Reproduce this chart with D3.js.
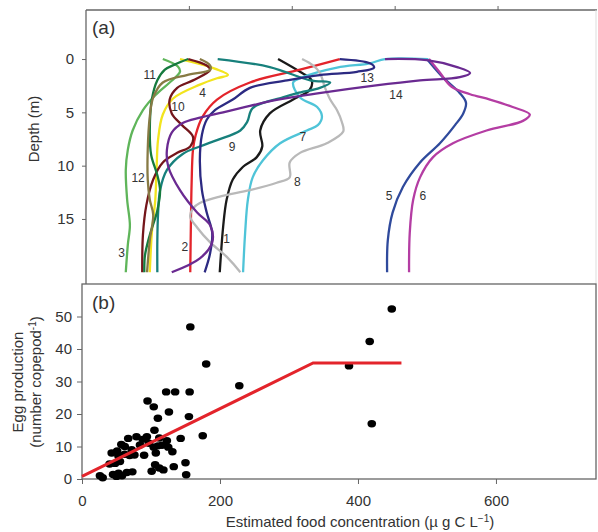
<!DOCTYPE html>
<html>
<head>
<meta charset="utf-8">
<script src="https://cdn.jsdelivr.net/npm/d3@7"></script>
<style>
  body { margin: 0; background: #fff; }
  svg text { font-family: "Liberation Sans", Arial, sans-serif; fill: #333; }
</style>
</head>
<body>
<script>
// ---- (a) food profiles per station, [food, depth] ----
const station1 = [[280,0],[312,1.2],[329,2.0],[326,2.9],[302,3.8],[268,5.1],[254,6.7],[257,8.2],[249,9.2],[229,10.1],[214,11.3],[205,13.2],[200,15.7],[195,20]];
const station2 = [[370,0],[312,1.0],[239,2.2],[191,3.8],[170,5.4],[160,7.1],[156,8.5],[154,11.6],[153,15.1],[152,20]];
const station3 = [[112,0],[134,0.7],[137,1.2],[122,2.2],[101,3.4],[83,4.8],[68,6.7],[61,8.5],[58,10.4],[60,13.2],[64,15.6],[61,17.4],[58,20]];
const station4 = [[137,0],[181,0.75],[207,1.5],[191,1.8],[166,2.4],[127,3.7],[112,5.2],[105,7.6],[103,10.1],[101,13.2],[96,16.3],[93,20]];
const station5 = [[497,0],[520,1.7],[545,3.2],[554,4.1],[550,5.1],[538,6.2],[516,7.9],[487,9.7],[462,12],[447,14.4],[440,17],[439,20]];
const station6 = [[500,0],[515,1.2],[533,2.6],[560,3.3],[589,3.8],[622,4.5],[647,5.2],[637,5.8],[584,6.7],[535,7.9],[506,9.2],[487,11.1],[477,13.2],[472,16.3],[471,20]];
const station7 = [[499,0],[436,0],[414,0.4],[366,0.8],[316,1.7],[302,2.2],[312,3.6],[337,4.5],[344,5.4],[338,6.2],[322,6.7],[283,7.9],[258,9.5],[243,11.1],[236,13.2],[232,16.3],[229,20]];
const station8 = [[315,0],[331,0.6],[341,1.3],[348,2.6],[356,3.8],[366,4.8],[373,5.9],[375,6.8],[351,7.9],[312,8.8],[297,9.7],[297,11.1],[278,11.6],[239,12.3],[195,12.9],[166,13.5],[156,14.0],[152,14.8],[162,15.8],[181,17.2],[206,18.6],[225,20]];
const station9 = [[192,0],[268,0.75],[327,2.0],[356,2.2],[341,2.7],[308,3.2],[287,3.6],[243,4.6],[235,5.9],[225,6.7],[191,7.6],[166,8.2],[141,8.9],[118,10.4],[108,12.3],[105,14.6],[104,17],[104,20]];
const station10 = [[149,0],[176,0.6],[181,1.0],[156,2.0],[133,2.7],[122,3.8],[125,5.1],[140,6.2],[156,7.3],[152,8.2],[133,8.8],[112,9.7],[98,11.3],[88,13.7],[83,16.5],[82,20]];
const station11 = [[149,0],[130,0.5],[115,1.0],[104,2.0],[96,3.8],[93,6.7],[95,9.0],[104,10.9],[108,12.3],[104,14.2],[93,16.5],[86,18.4],[85,20]];
const station12 = [[166,0],[181,0.6],[181,1.0],[147,1.5],[112,2.2],[98,3.6],[93,5.4],[90,8.5],[90,11.3],[93,13.2],[98,14.6],[93,17],[89,20]];
const station13 = [[370,0],[414,0.4],[420,0.8],[395,1.2],[341,1.5],[293,2.0],[239,2.7],[214,3.8],[188,4.8],[176,5.7],[169,7.1],[166,9.5],[169,12.3],[176,14.4],[184,16.3],[181,18.2],[173,20]];
const station14 = [[436,0],[497,0.1],[541,0.75],[560,1.3],[545,1.7],[487,2.0],[420,2.5],[340,3.2],[280,3.8],[239,4.4],[200,5.0],[166,5.5],[141,6.0],[125,6.9],[118,8.5],[120,10.1],[137,12.3],[162,14.4],[181,15.6],[184,17.2],[166,18.7],[125,20]];

const stations = [station1, station2, station3, station4, station5, station6, station7,
  station8, station9, station10, station11, station12, station13, station14];
const stationNames = ["1","2","3","4","5","6","7","8","9","10","11","12","13","14"];
const stationColors = ["#1a1a1a","#e3242b","#5fb55a","#f2e41e","#2f4a9c","#b43da3","#4fc4d8",
  "#b9b9b9","#17807c","#74161b","#157a3e","#877a44","#2c2a82","#6a2a91"];
// where each station number is written, [food, depth]
const stationLabelAt = [[205,16.9],[144,17.6],[52,18.2],[170,3.2],[442,12.8],[491,12.8],[316,7.3],
  [308,11.5],[213,8.2],[134,4.5],[93,1.5],[76,11.1],[410,1.8],[452,3.4]];
const depthTicks = [0, 5, 10, 15];
const topFoodTicks = [150, 300, 450, 600];

// ---- (b) egg production vs estimated food ----
const foodConc = [26,30,45,50,53,58,65,73,101,106,112,118,133,151,150,43,48,55,53,62,69,76,90,107,131,
  51,57,62,67,79,94,97,104,110,116,123,125,112,143,105,110,126,155,104,95,122,135,156,175,180,157,228,
  387,417,449,420,88,84,72,40];
const eggProd = [1.0,0.4,1.4,0.8,1.8,1.0,2.0,2.2,2.4,4.4,3.4,2.8,3.8,1.3,5.0,8.0,4.8,5.4,7.0,7.6,7.2,7.4,7.3,8.0,8.4,
  8.6,10.6,10.0,12.5,13.0,13.0,11.0,9.8,10.2,10.4,11.8,9.8,12.6,12.5,15.0,18.7,20.6,19.2,22.2,24.0,26.8,26.8,26.8,13.3,35.4,46.8,28.7,
  34.8,42.3,52.3,17.0,12.2,10.5,9.0,4.6];
// broken-stick fit
const fitFood = [0, 335, 463];
const fitEgg = [0.8, 35.7, 35.7];
const eggTicks = [0, 10, 20, 30, 40, 50];
const foodTicks = [0, 200, 400, 600];

const width = 598;
const height = 532;

const svg = d3.select("body").append("svg")
  .attr("width", width)
  .attr("height", height);

// ================= panel (a) =================
const xTop = d3.scaleLinear().domain([0, 745]).range([86, 597]);
const yDepth = d3.scaleLinear().domain([-4.6, 21.1]).range([10, 284]);

const gA = svg.append("g");

// frame: left + top, faint right
gA.append("line").attr("x1", 86).attr("x2", 86).attr("y1", 10).attr("y2", 284)
  .attr("stroke", "#666").attr("stroke-width", 1.3);
gA.append("line").attr("x1", 86).attr("x2", 597).attr("y1", 10).attr("y2", 10)
  .attr("stroke", "#666").attr("stroke-width", 1.3);
gA.append("line").attr("x1", 596).attr("x2", 596).attr("y1", 10).attr("y2", 284)
  .attr("stroke", "#ddd").attr("stroke-width", 1);

const topAxis = d3.axisTop(xTop).tickValues(topFoodTicks).tickFormat("").tickSizeInner(4).tickSizeOuter(0);
gA.append("g").attr("transform", "translate(0,10)").call(topAxis)
  .call((g) => g.select(".domain").remove())
  .call((g) => g.selectAll("line").attr("stroke", "#666"));

const depthAxis = d3.axisLeft(yDepth).tickValues(depthTicks).tickSizeInner(4).tickSizeOuter(0).tickPadding(8);
gA.append("g").attr("transform", "translate(86,0)").call(depthAxis)
  .call((g) => g.select(".domain").remove())
  .call((g) => g.selectAll("line").attr("stroke", "#666"))
  .call((g) => g.selectAll("text").attr("font-size", "15px").attr("fill", "#333")
    .style("font-family", "'Liberation Sans', Arial, sans-serif"));

gA.append("text")
  .attr("transform", "translate(39,129) rotate(-90)")
  .attr("text-anchor", "middle")
  .attr("font-size", "15px")
  .text("Depth (m)");

gA.append("text").attr("x", 92).attr("y", 34).attr("font-size", "19px").text("(a)");

const profileLine = d3.line()
  .x((d) => xTop(d[0]))
  .y((d) => yDepth(d[1]))
  .curve(d3.curveCatmullRom.alpha(0.5));

gA.selectAll("path.profile")
  .data(stations)
  .join("path")
  .attr("class", "profile")
  .attr("d", profileLine)
  .attr("fill", "none")
  .attr("stroke", (d, i) => stationColors[i])
  .attr("stroke-width", 2.3)
  .attr("stroke-linejoin", "round");

gA.selectAll("text.station")
  .data(stationLabelAt)
  .join("text")
  .attr("class", "station")
  .attr("x", (d) => xTop(d[0]))
  .attr("y", (d) => yDepth(d[1]))
  .attr("dy", "0.35em")
  .attr("text-anchor", "middle")
  .attr("font-size", "12px")
  .text((d, i) => stationNames[i]);

// ================= panel (b) =================
const xFood = d3.scaleLinear().domain([0, 745]).range([82, 596]);
const yEgg = d3.scaleLinear().domain([0, 60]).range([479, 284]);

const gB = svg.append("g");

gB.append("rect")
  .attr("x", 82).attr("y", 284).attr("width", 514).attr("height", 195)
  .attr("fill", "none").attr("stroke", "#666").attr("stroke-width", 1.3);

const eggAxis = d3.axisLeft(yEgg).tickValues(eggTicks).tickSizeInner(5).tickSizeOuter(0).tickPadding(5);
gB.append("g").attr("transform", "translate(82,0)").call(eggAxis)
  .call((g) => g.select(".domain").remove())
  .call((g) => g.selectAll("line").attr("stroke", "#666"))
  .call((g) => g.selectAll("text").attr("font-size", "15px").attr("fill", "#333")
    .style("font-family", "'Liberation Sans', Arial, sans-serif"));

const foodAxis = d3.axisBottom(xFood).tickValues(foodTicks).tickSizeInner(5).tickSizeOuter(0).tickPadding(11);
gB.append("g").attr("transform", "translate(0,479)").call(foodAxis)
  .call((g) => g.select(".domain").remove())
  .call((g) => g.selectAll("line").attr("stroke", "#666"))
  .call((g) => g.selectAll("text").attr("font-size", "15px").attr("fill", "#333")
    .style("font-family", "'Liberation Sans', Arial, sans-serif"));

gB.append("text")
  .attr("transform", "translate(23,382) rotate(-90)")
  .attr("text-anchor", "middle")
  .attr("font-size", "15px")
  .text("Egg production");

const subLabel = gB.append("text")
  .attr("transform", "translate(41,382) rotate(-90)")
  .attr("text-anchor", "middle")
  .attr("font-size", "15px");
subLabel.append("tspan").text("(number copepod");
subLabel.append("tspan").attr("dy", "-5").attr("font-size", "10px").text("-1");
subLabel.append("tspan").attr("dy", "5").text(")");

const xTitle = gB.append("text")
  .attr("x", 360).attr("y", 527)
  .attr("text-anchor", "middle")
  .attr("font-size", "15px");
xTitle.append("tspan").text("Estimated food concentration (\u00b5 g C L");
xTitle.append("tspan").attr("dy", "-5").attr("font-size", "10px").text("\u22121");
xTitle.append("tspan").attr("dy", "5").text(")");

gB.append("text").attr("x", 92).attr("y", 309).attr("font-size", "19px").text("(b)");

const points = foodConc.map((f, i) => ({ food: f, egg: eggProd[i] }));

gB.selectAll("ellipse.dot")
  .data(points)
  .join("ellipse")
  .attr("class", "dot")
  .attr("cx", (d) => xFood(d.food))
  .attr("cy", (d) => yEgg(d.egg))
  .attr("rx", 4.3)
  .attr("ry", 3.7)
  .attr("fill", "#000");

const fitLine = d3.line()
  .x((d) => xFood(d[0]))
  .y((d) => yEgg(d[1]));

gB.append("path")
  .attr("d", fitLine(fitFood.map((f, i) => [f, fitEgg[i]])))
  .attr("fill", "none")
  .attr("stroke", "#e3242b")
  .attr("stroke-width", 3);
</script>
</body>
</html>
